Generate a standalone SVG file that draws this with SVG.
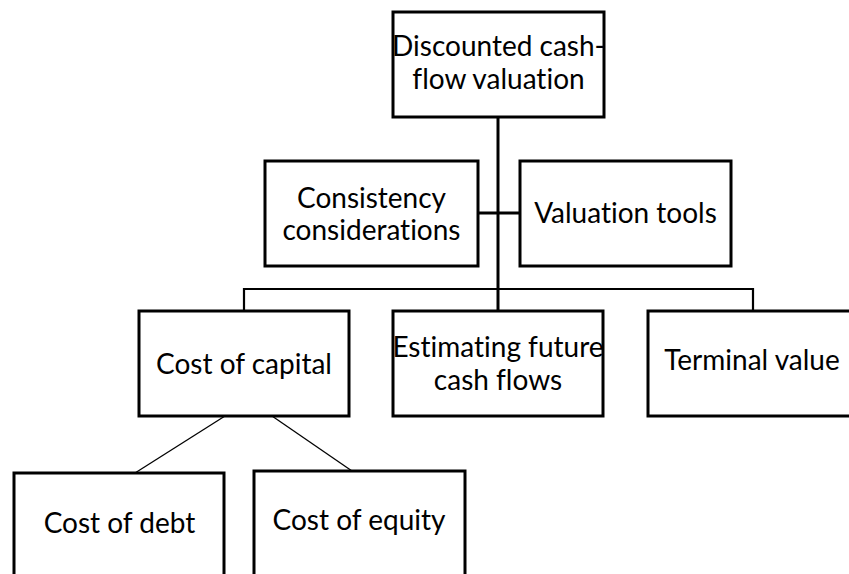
<svg xmlns="http://www.w3.org/2000/svg" width="849" height="574" viewBox="0 0 849 574">
  <style>
    .box { fill: #ffffff; stroke: #000000; stroke-width: 3; }
    .label { font-family: "Lato", "Liberation Sans", sans-serif; font-size: 28px; fill: #000000; text-anchor: middle; font-variant-ligatures: none; }
    .trunk { stroke: #000000; stroke-width: 3; fill: none; }
    .bus { stroke: #000000; stroke-width: 2.2; fill: none; }
    .thin { stroke: #000000; stroke-width: 1.3; fill: none; }
  </style>
  <rect width="849" height="574" fill="#ffffff"/>

  <!-- connectors -->
  <g id="connectors">
    <line class="trunk" x1="498" y1="117" x2="498" y2="311"/>
    <line class="trunk" x1="478" y1="213" x2="520" y2="213"/>
    <polyline class="bus" points="244,311 244,289 753,289 753,311"/>
    <line class="thin" x1="225" y1="416" x2="135" y2="473"/>
    <line class="thin" x1="272" y1="416" x2="352" y2="471"/>
  </g>

  <g id="dcf-valuation">
    <rect class="box" x="393" y="12" width="211" height="105"/>
    <text class="label" x="498.5" y="56">Discounted cash-</text>
    <text class="label" x="498.5" y="89">flow valuation</text>
  </g>

  <g id="consistency">
    <rect class="box" x="265" y="161" width="213" height="105"/>
    <text class="label" x="371.5" y="208">Consistency</text>
    <text class="label" x="371.5" y="240">considerations</text>
  </g>

  <g id="valuation-tools">
    <rect class="box" x="520" y="161" width="211" height="105"/>
    <text class="label" x="625.5" y="223">Valuation tools</text>
  </g>

  <g id="cost-of-capital">
    <rect class="box" x="139" y="311" width="210" height="105"/>
    <text class="label" x="244" y="374">Cost of capital</text>
  </g>

  <g id="future-cash-flows">
    <rect class="box" x="393" y="311" width="210" height="105"/>
    <text class="label" x="498" y="357">Estimating future</text>
    <text class="label" x="498" y="390">cash flows</text>
  </g>

  <g id="terminal-value">
    <rect class="box" x="648" y="311" width="212" height="105"/>
    <text class="label" x="752" y="370">Terminal value</text>
  </g>

  <g id="cost-of-debt">
    <rect class="box" x="14" y="473" width="210" height="110"/>
    <text class="label" x="119.5" y="533">Cost of debt</text>
  </g>

  <g id="cost-of-equity">
    <rect class="box" x="254" y="471" width="211" height="110"/>
    <text class="label" x="359" y="530">Cost of equity</text>
  </g>
</svg>
